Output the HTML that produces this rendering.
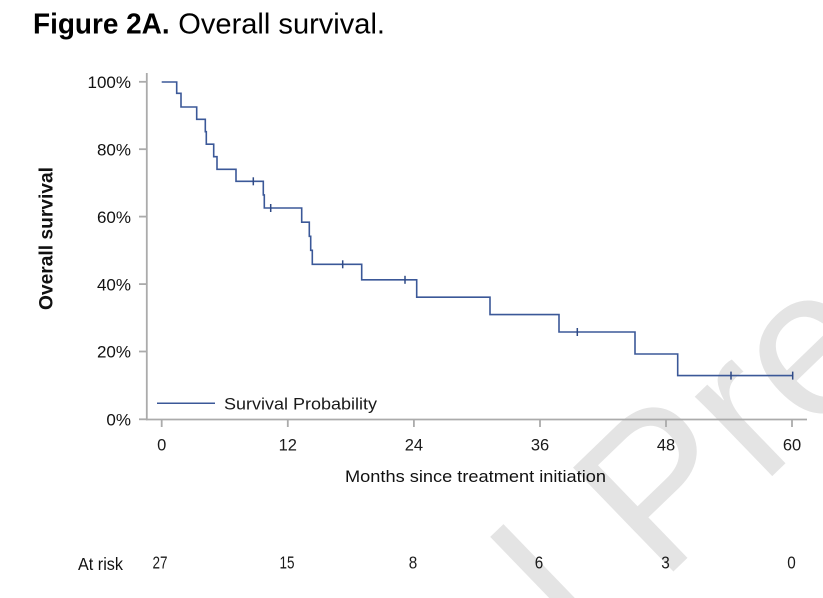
<!DOCTYPE html>
<html>
<head>
<meta charset="utf-8">
<style>
  html, body { margin:0; padding:0; background:#ffffff; width:823px; height:598px; overflow:hidden; }
  svg { display:block; overflow:hidden; }
  text { font-family: "Liberation Sans", Arial, sans-serif; }
</style>
</head>
<body>
<svg width="823" height="598" viewBox="0 0 823 598" xmlns="http://www.w3.org/2000/svg">
  <defs>
    <clipPath id="pg"><rect x="0" y="0" width="823" height="598"/></clipPath>
  </defs>
  <rect x="0" y="0" width="823" height="598" fill="#ffffff"/>

  <!-- watermark -->
  <g clip-path="url(#pg)">
    <g transform="translate(661,583.5) rotate(-44)" fill="#e4e4e4" font-size="210">
      <text x="-58" y="0" text-anchor="end">Journal</text>
      <text x="0" y="0">Pre-proof</text>
    </g>
  </g>

  <!-- title -->
  <text x="33" y="33.3" font-size="29" font-weight="bold" fill="#000" textLength="136.6" lengthAdjust="spacingAndGlyphs">Figure 2A.</text>
  <text x="178.3" y="33.3" font-size="29" fill="#000" textLength="206.7" lengthAdjust="spacingAndGlyphs">Overall survival.</text>

  <!-- axes -->
  <g stroke="#ababab" stroke-width="1.8" fill="none">
    <line x1="146.8" y1="73" x2="146.8" y2="420.2"/>
    <line x1="146" y1="419.5" x2="807" y2="419.5"/>
    <line x1="139" y1="81.8" x2="147" y2="81.8"/>
    <line x1="139" y1="149.2" x2="147" y2="149.2"/>
    <line x1="139" y1="216.6" x2="147" y2="216.6"/>
    <line x1="139" y1="284.1" x2="147" y2="284.1"/>
    <line x1="139" y1="351.5" x2="147" y2="351.5"/>
    <line x1="139" y1="419.3" x2="147" y2="419.3"/>
    <line x1="161.7" y1="419" x2="161.7" y2="427"/>
    <line x1="287.8" y1="419" x2="287.8" y2="427"/>
    <line x1="413.9" y1="419" x2="413.9" y2="427"/>
    <line x1="540" y1="419" x2="540" y2="427"/>
    <line x1="666" y1="419" x2="666" y2="427"/>
    <line x1="792" y1="419" x2="792" y2="427"/>
  </g>

  <!-- y tick labels -->
  <g font-size="17" fill="#111" text-anchor="end">
    <text x="131" y="88">100%</text>
    <text x="131" y="155.4">80%</text>
    <text x="131" y="222.8">60%</text>
    <text x="131" y="290.3">40%</text>
    <text x="131" y="357.7">20%</text>
    <text x="131" y="425.3">0%</text>
  </g>

  <!-- x tick labels -->
  <g font-size="16.5" fill="#1a1a1a" text-anchor="middle">
    <text x="161.7" y="450.5">0</text>
    <text x="287.8" y="450.5">12</text>
    <text x="413.9" y="450.5">24</text>
    <text x="540" y="450.5">36</text>
    <text x="666" y="450.5">48</text>
    <text x="792" y="450.5">60</text>
  </g>

  <!-- axis titles -->
  <text x="475.5" y="482" font-size="16.5" fill="#111" text-anchor="middle" textLength="261" lengthAdjust="spacingAndGlyphs">Months since treatment initiation</text>
  <text transform="translate(52.5,238.5) rotate(-90)" x="0" y="0" font-size="19" font-weight="bold" fill="#111" text-anchor="middle" textLength="143" lengthAdjust="spacingAndGlyphs">Overall survival</text>

  <!-- legend -->
  <line x1="157" y1="403.3" x2="215" y2="403.3" stroke="#3b5898" stroke-width="1.5"/>
  <text x="224" y="409.5" font-size="17" fill="#1a1a1a" textLength="153" lengthAdjust="spacingAndGlyphs">Survival Probability</text>

  <!-- KM curve -->
  <path d="M161.7,82 H176.7 V93.3 H181 V107 H196.7 V119.3 H205.3 V131.7 H206.3 V144.2 H213.7 V156.7 H217 V169.3 H236 V181.3 H263.3 V194.9 H264.3 V208 H301.7 V222.2 H309.3 V236.3 H310.7 V250.3 H312.3 V264.3 H361.7 V279.8 H416.7 V297.2 H490 V314.6 H559 V332 H635 V354 H677.7 V375.6 H792.7"
        fill="none" stroke="#3b5898" stroke-width="1.6" stroke-linejoin="miter"/>
  <g stroke="#2f4a86" stroke-width="1.5">
    <line x1="253.3" y1="177.3" x2="253.3" y2="185.3"/>
    <line x1="270.7" y1="204" x2="270.7" y2="212"/>
    <line x1="342.7" y1="260.3" x2="342.7" y2="268.3"/>
    <line x1="405" y1="275.8" x2="405" y2="283.8"/>
    <line x1="577.3" y1="328" x2="577.3" y2="336"/>
    <line x1="731" y1="371.6" x2="731" y2="379.6"/>
    <line x1="792.7" y1="371.6" x2="792.7" y2="379.6"/>
  </g>

  <!-- at risk -->
  <text x="78" y="570" font-size="17.5" fill="#111" textLength="45" lengthAdjust="spacingAndGlyphs">At risk</text>
  <g font-size="17.5" fill="#1a1a1a" text-anchor="middle">
    <text x="160" y="568.5" textLength="15" lengthAdjust="spacingAndGlyphs">27</text>
    <text x="287" y="568.5" textLength="15" lengthAdjust="spacingAndGlyphs">15</text>
    <text x="413" y="568.5" textLength="8.5" lengthAdjust="spacingAndGlyphs">8</text>
    <text x="539" y="568.5" textLength="8.5" lengthAdjust="spacingAndGlyphs">6</text>
    <text x="665.5" y="568.5" textLength="8.5" lengthAdjust="spacingAndGlyphs">3</text>
    <text x="791.5" y="568.5" textLength="8.5" lengthAdjust="spacingAndGlyphs">0</text>
  </g>
</svg>
</body>
</html>
